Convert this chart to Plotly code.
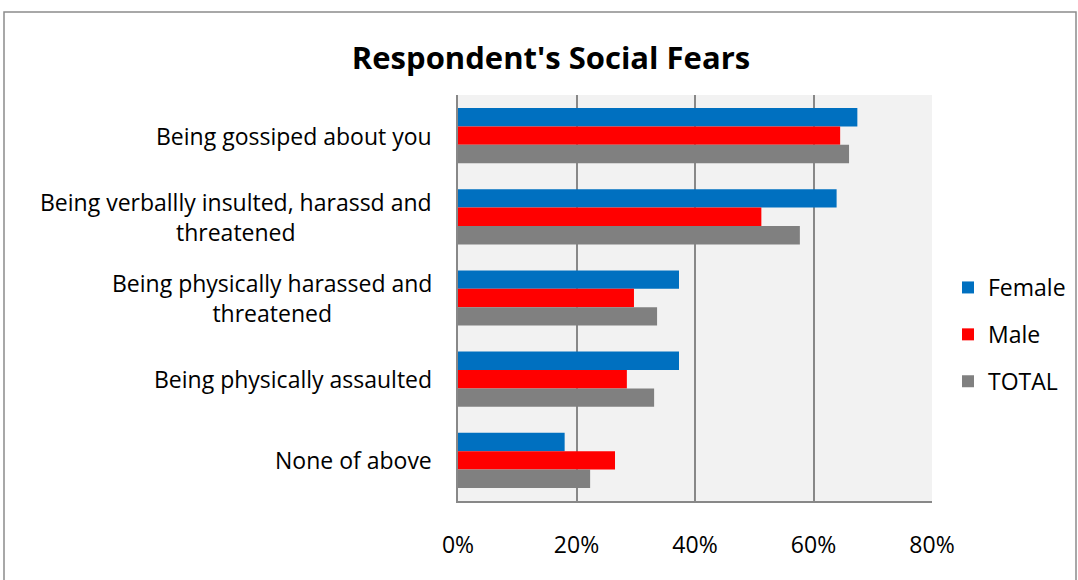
import plotly.graph_objects as go

categories = [
    "Being gossiped about you",
    "Being verballly insulted, harassd and<br>threatened",
    "Being physically harassed and<br>threatened",
    "Being physically assaulted",
    "None of above",
]
female = [67.4, 63.9, 37.3, 37.3, 18.0]
male = [64.5, 51.2, 29.7, 28.5, 26.5]
total = [66.0, 57.7, 33.6, 33.1, 22.3]
series_names = ["Female", "Male", "TOTAL"]
colors = ["#0070C0", "#FF0000", "#808080"]
x_ticks = [0, 20, 40, 60, 80]
x_tick_labels = ["0%", "20%", "40%", "60%", "80%"]

W, H = 1078, 580
L, R, T, B = 458, 146, 95, 79
FONT = "Open Sans"

fig = go.Figure()
for name, vals, col in zip(series_names, [female, male, total], colors):
    fig.add_trace(go.Bar(
        y=categories, x=vals, name=name, orientation="h",
        marker=dict(color=col, line=dict(width=0)),
        legendgroup=name,
    ))

for c in categories:
    fig.add_annotation(
        x=0, xref="paper", y=c, yref="y", text=c, showarrow=False,
        xanchor="right", align="center", xshift=-24,
        font=dict(family=FONT, size=23, color="#000000"),
    )

pw = W - L - R
ph = H - T - B
fig.add_shape(
    type="rect", xref="paper", yref="paper",
    x0=(4 - L) / pw, x1=(1076 - L) / pw,
    y0=(H - B - 592) / ph, y1=(H - B - 12) / ph,
    line=dict(color="#8c8c8c", width=1.5), fillcolor="rgba(0,0,0,0)", layer="below",
)

fig.update_layout(
    width=W, height=H,
    margin=dict(l=L, r=R, t=T, b=B, pad=0, autoexpand=False),
    paper_bgcolor="white", plot_bgcolor="#F2F2F2",
    barmode="group", bargap=0.32, bargroupgap=0,
    title=dict(text="<b>Respondent's Social Fears</b>", x=551 / W, xanchor="center",
               y=1 - 58 / H, yanchor="middle",
               font=dict(family=FONT, size=31, color="#000000")),
    font=dict(family=FONT, size=23, color="#000000"),
    legend=dict(x=(948 - L) / pw, xanchor="left", y=(H - B - 266) / ph, yanchor="top",
                tracegroupgap=14, font=dict(size=23), bgcolor="rgba(0,0,0,0)",
                itemwidth=30),
    showlegend=True,
)
fig.update_xaxes(
    range=[0, 80], tickvals=x_ticks, ticktext=x_tick_labels,
    showgrid=True, gridcolor="#888888", gridwidth=1.5,
    showline=True, linecolor="#888888", linewidth=1.5, mirror=False,
    zeroline=False, ticks="", ticklabelstandoff=23,
    tickfont=dict(family=FONT, size=23),
)
fig.update_yaxes(
    autorange="reversed", showticklabels=False, showgrid=False,
    showline=True, linecolor="#888888", linewidth=2, ticks="",
)

fig.write_html(
    "out.html",
    config={"displayModeBar": False},
    post_script="document.body.style.margin='0';document.body.style.overflow='hidden';",
)
